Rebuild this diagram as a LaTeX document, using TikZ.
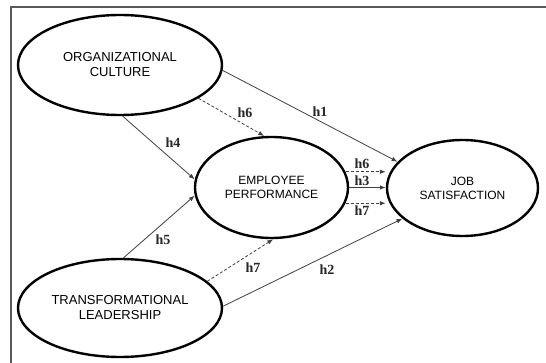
\documentclass[tikz,border=0pt]{standalone}
\usepackage{fontspec}
\setmainfont{Liberation Sans}
\newfontfamily\lblfont{Liberation Serif}
\usetikzlibrary{shapes.geometric,arrows.meta}
\begin{document}
\begin{tikzpicture}[x=1pt,y=-1pt,
  var/.style={draw=black, line width=2.4pt, ellipse, inner sep=0pt, align=center},
  bigtxt/.style={font=\fontsize{13}{15}\selectfont},
  smalltxt/.style={font=\fontsize{12}{14}\selectfont},
  conn/.style={draw=black!75, line width=0.8pt, -{Latex[length=6pt,width=4.5pt]}},
  dsh/.style={conn, dash pattern=on 3pt off 2pt},
  lbl/.style={font=\lblfont\bfseries\fontsize{14}{14}\selectfont, inner sep=0pt, text=black!85}
]
\useasboundingbox (0,0) rectangle (546,363);
\draw[black!65, line width=1.2pt] (11,363) -- (11,7) -- (546,7);

\node[var, bigtxt, minimum width=204pt, minimum height=100pt] (OC) at (120,65) {ORGANIZATIONAL\\CULTURE};
\node[var, smalltxt, minimum width=153pt, minimum height=101pt] (EP) at (271.5,187.5) {EMPLOYEE\\PERFORMANCE};
\node[var, smalltxt, minimum width=151pt, minimum height=96pt] (JS) at (462.5,188) {JOB\\SATISFACTION};
\node[var, bigtxt, minimum width=204pt, minimum height=98pt] (TL) at (120,308) {TRANSFORMATIONAL\\LEADERSHIP};

\draw[conn] (OC.-3) -- (JS.158);
\draw[dsh] (OC.-23) -- (EP.98);
\draw[conn] (OC.-87) -- (EP.174);
\draw[conn] (TL.86) -- (EP.186);
\draw[dsh] (TL.17) -- (EP.-88);
\draw[conn] (TL.1) -- (JS.207);
\draw[dsh] (EP.12) -- (EP.12 -| JS.west);
\draw[conn] (EP.east) -- (EP.east -| JS.west);
\draw[dsh] (EP.-12) -- (EP.-12 -| JS.west);

\node[lbl] (l1) at (320,112) {h1};
\node[lbl] (l6a) at (245,113) {h6};
\node[lbl] (l4) at (173,143) {h4};
\node[lbl] (l5) at (163,240) {h5};
\node[lbl] (l7a) at (253,268) {h7};
\node[lbl] (l2) at (327,270) {h2};
\node[lbl] (l6b) at (362,164) {h6};
\node[lbl] (l3) at (362,181) {h3};
\node[lbl] (l7b) at (362,211) {h7};
\end{tikzpicture}
\end{document}
